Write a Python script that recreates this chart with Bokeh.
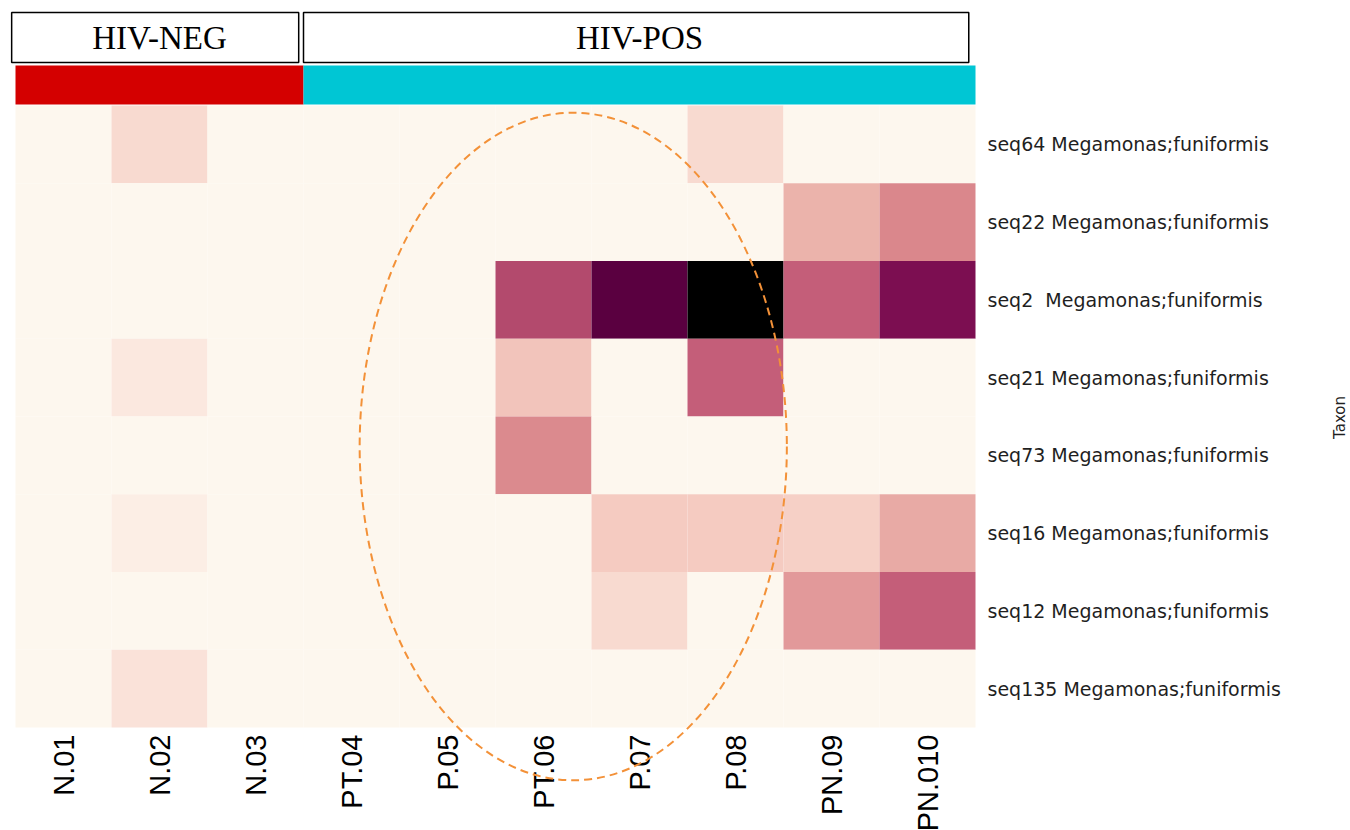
import numpy as np
from bokeh.plotting import figure
from bokeh.models import Range1d, LinearColorMapper, ColumnDataSource
from bokeh.core.properties import value
from bokeh.embed import file_html
from bokeh.resources import INLINE

# ---------------- data ----------------
samples = ["N.01", "N.02", "N.03", "PT.04", "P.05", "PT.06", "P.07", "P.08", "PN.09", "PN.010"]
groups = ["HIV-NEG"] * 3 + ["HIV-POS"] * 7
group_colors = {"HIV-NEG": "#d40000", "HIV-POS": "#00c6d4"}

taxa = [
    "seq64 Megamonas;funiformis",
    "seq22 Megamonas;funiformis",
    "seq2\u00a0 Megamonas;funiformis",
    "seq21 Megamonas;funiformis",
    "seq73 Megamonas;funiformis",
    "seq16 Megamonas;funiformis",
    "seq12 Megamonas;funiformis",
    "seq135 Megamonas;funiformis",
]
axis_title = "Taxon"

# relative abundance (scaled 0-1), one list per taxon, columns follow `samples`
seq64 = [0, 0.10, 0, 0, 0, 0, 0, 0.10, 0, 0]
seq22 = [0, 0, 0, 0, 0, 0, 0, 0, 0.25, 0.40]
seq2 = [0, 0, 0, 0, 0, 0.58, 0.85, 1.00, 0.50, 0.72]
seq21 = [0, 0.06, 0, 0, 0, 0.20, 0, 0.50, 0, 0]
seq73 = [0, 0, 0, 0, 0, 0.39, 0, 0, 0, 0]
seq16 = [0, 0.04, 0, 0, 0, 0, 0.18, 0.18, 0.15, 0.28]
seq12 = [0, 0, 0, 0, 0, 0, 0.10, 0, 0.33, 0.50]
seq135 = [0, 0.075, 0, 0, 0, 0, 0, 0, 0, 0]
rows = [seq64, seq22, seq2, seq21, seq73, seq16, seq12, seq135]

# ---------------- palette ----------------
anchor_v = [0.00, 0.05, 0.10, 0.18, 0.25, 0.33, 0.40, 0.50, 0.58, 0.72, 0.85, 1.00]
anchor_c = ["#fdf7ee", "#fcebe2", "#f8d9cf", "#f5cbc1", "#ebb3ab", "#e2999a",
            "#da878c", "#c45e79", "#b34a6d", "#7c0e51", "#5b0040", "#000000"]


def _rgb(h):
    return [int(h[i:i + 2], 16) for i in (1, 3, 5)]


_arr = np.array([_rgb(c) for c in anchor_c], dtype=float)
_t = np.linspace(0, 1, 256)
palette = ["#%02x%02x%02x" % tuple(int(round(np.interp(t, anchor_v, _arr[:, k]))) for k in range(3)) for t in _t]
mapper = LinearColorMapper(palette=palette, low=0, high=1)

ncol = len(samples)
nrow = len(taxa)

xs, ys, vals = [], [], []
for i, r in enumerate(rows):
    for j, v in enumerate(r):
        xs.append(j + 0.5)
        ys.append(nrow - 1 - i + 0.5)
        vals.append(v)
src = ColumnDataSource(dict(x=xs, y=ys, v=vals))

# ---------------- figure ----------------
row_px = 77.75
col_px = 96.0
p = figure(
    frame_width=1349, frame_height=830,
    x_range=Range1d(-15 / col_px, ncol + (1349 - 975) / col_px),
    y_range=Range1d(-(830 - 727) / row_px, nrow + 105 / row_px),
    output_backend="svg", toolbar_location=None,
    x_axis_location=None, y_axis_location=None,
    min_border_left=0, min_border_top=0, min_border_bottom=0, min_border_right=0,
    background_fill_color="white", border_fill_color="white", outline_line_color=None,
)
p.grid.visible = False

# heatmap
p.rect(x="x", y="y", width=1, height=1, source=src,
       fill_color={"field": "v", "transform": mapper}, line_color=None)

# group bars and header boxes
spans = []
for g in dict.fromkeys(groups):
    idx = [k for k, gg in enumerate(groups) if gg == g]
    spans.append((g, idx[0], idx[-1] + 1))

bar_bottom = nrow + 0.013
bar_top = nrow + 0.515
p.quad(left=[s for _, s, _ in spans], right=[e for _, _, e in spans],
       bottom=bar_bottom, top=bar_top,
       fill_color=[group_colors[g] for g, _, _ in spans], line_color=None)

box_bottom = nrow + 0.553
box_top = nrow + 1.196
p.quad(left=[s - 0.04 if s == 0 else s for _, s, _ in spans],
       right=[e - 0.05 if e < ncol else e - 0.07 for _, _, e in spans],
       bottom=box_bottom, top=box_top,
       fill_color="white", line_color="black", line_width=1.5)
p.text(x=[(s + e) / 2 for _, s, e in spans], y=(box_bottom + box_top) / 2,
       text=[g for g, _, _ in spans],
       text_font=value("Liberation Serif"), text_font_size=value("33px"),
       text_align="center", text_baseline="middle", text_color="black")

# sample labels (rotated) below the heatmap
p.text(x=[j + 0.5 for j in range(ncol)], y=-7 / row_px, text=samples,
       angle=np.pi / 2, text_align="right", text_baseline="middle",
       text_font=value("Liberation Sans"), text_font_size=value("29px"),
       text_color="black")

# taxon labels on the right
p.text(x=ncol + 12 / col_px, y=[nrow - 1 - i + 0.5 for i in range(nrow)], text=taxa,
       text_align="left", text_baseline="middle",
       text_font=value("DejaVu Sans"), text_font_size=value("19px"),
       text_color="#1f1f1f")
p.text(x=[ncol + (1339 - 975) / col_px], y=[(727 - 417) / row_px], text=[axis_title],
       angle=np.pi / 2, text_align="center", text_baseline="middle",
       text_font=value("DejaVu Sans"), text_font_size=value("15px"),
       text_color="#1f1f1f")

# highlight ellipse
p.ellipse(x=[5.81], y=[3.614], width=4.45, height=8.59,
          fill_color=None, line_color="#f39138", line_width=2, line_dash="8 5")

open("out.html", "w").write(file_html(p, INLINE))
